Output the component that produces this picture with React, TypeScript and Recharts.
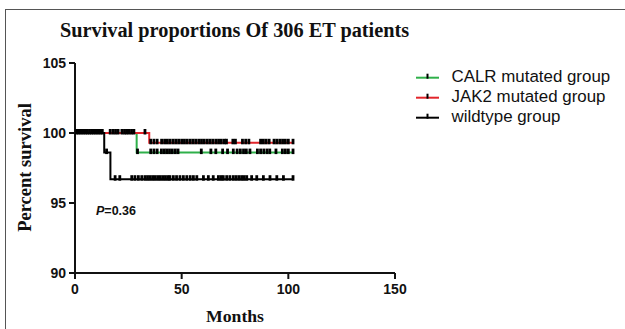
import { LineChart, Line, XAxis, YAxis } from "recharts";

// Kaplan-Meier steps: [month, percent survival]
const calrSteps: [number, number][] = [[0, 100], [28.9, 98.6]];
const jak2Steps: [number, number][] = [[0, 100], [34.8, 99.3]];
const wildSteps: [number, number][] = [[0, 100], [13.7, 98.6], [16.6, 96.7]];

// censored observations (months)
const calrCensored = [
  29.3, 35.5, 37, 38.5, 40.5, 41.8, 43, 44.3, 45.6, 47, 48.3, 59.2, 63.7, 66, 69.2, 71.5,
  74.2, 76, 77.5, 79, 80.3, 82, 85.5, 87, 88.5, 90, 91.3, 94.2, 97.2, 98.6, 100, 102.2,
];
const jak2Censored = [
  16.5, 17.8, 19, 20.2, 22, 23.2, 24.2, 25.3, 26.5, 27.6, 32.8,
  35.5, 37, 38.5, 40.6, 42, 43.3, 44.6, 46, 47.3, 48.6, 50, 51.3, 52.6, 54, 55.3, 56.6, 58,
  59.3, 60.6, 62, 63.3, 64.6, 66, 67.3, 68.6, 70, 71, 74, 75.2, 78.5, 80, 81.5, 87, 88.3,
  89.6, 91, 93.3, 94.6, 96, 97.3, 98.6, 100, 102.2,
];
const wildCensored = [
  0.8, 1.8, 2.8, 3.8, 4.8, 5.8, 6.8, 7.8, 8.8, 9.8, 10.8, 11.8, 12.8, 14.8,
  18.8, 21, 26.6, 28.1, 29.7, 31.3, 32.8, 34, 35.2, 36.4, 37.6, 38.8, 40, 41.2, 42.4, 43.6,
  44.5, 46.1, 47.6, 49.2, 50.8, 52.4, 54, 55.5, 57.1, 60.2, 62.5, 64.8, 67.2, 68.4, 69.5,
  71.1, 72.6, 74.2, 75.5, 76.8, 78.1, 79.3, 80.5, 82.8, 85.2, 88.3, 91.4, 94.6, 97.7, 102.2,
];

const xTicks = [0, 50, 100, 150];
const yTicks = [90, 95, 100, 105];

const groups = [
  { name: "CALR mutated group", color: "#2fb04a" },
  { name: "JAK2 mutated group", color: "#e2252b" },
  { name: "wildtype group", color: "#000000" },
];

function buildCurve(steps: [number, number][], censored: number[]) {
  const times = Array.from(new Set([...steps.map((s) => s[0]), ...censored])).sort((a, b) => a - b);
  return times.map((t) => {
    let s = steps[0][1];
    for (const st of steps) if (st[0] <= t) s = st[1];
    return { t, s, c: censored.includes(t) };
  });
}

const calrData = buildCurve(calrSteps, calrCensored);
const jak2Data = buildCurve(jak2Steps, jak2Censored);
const wildData = buildCurve(wildSteps, wildCensored);

const CensorTick = (props: any) => {
  const { cx, cy, payload, index } = props;
  if (!payload || !payload.c) return <g key={index} />;
  return <rect key={index} x={cx - 1.4} y={cy - 4} width={2.8} height={5.5} fill="#000" />;
};

const serif = "'Liberation Serif', 'Times New Roman', serif";
const sans = "'Liberation Sans', Arial, sans-serif";

export default function App() {
  return (
    <div style={{ position: "absolute", left: 0, top: 0, width: 625, height: 329, background: "#fff", overflow: "hidden" }}>
      <div
        style={{
          position: "absolute",
          left: 5,
          top: 9,
          width: 640,
          height: 340,
          borderTop: "1.5px solid #555",
          borderLeft: "1.5px solid #555",
        }}
      />
      <div style={{ position: "absolute", left: 0, top: 0 }}>
        <LineChart width={625} height={329} margin={{ top: 63, right: 230, bottom: 0, left: 0 }}>
          <XAxis
            type="number"
            dataKey="t"
            domain={[0, 150]}
            ticks={xTicks}
            height={56}
            stroke="#111"
            strokeWidth={2}
            tickSize={6}
            tickMargin={5}
            tick={{ fill: "#111", fontSize: 14, fontWeight: "bold", fontFamily: sans }}
            allowDuplicatedCategory={false}
          />
          <YAxis
            type="number"
            dataKey="s"
            domain={[90, 105]}
            ticks={yTicks}
            width={75}
            stroke="#111"
            strokeWidth={2}
            tickSize={6}
            tickMargin={3}
            tick={{ fill: "#111", fontSize: 14, fontWeight: "bold", fontFamily: sans }}
          />
          <Line data={calrData} dataKey="s" type="stepAfter" stroke={groups[0].color} strokeWidth={2} dot={CensorTick} activeDot={false} isAnimationActive={false} />
          <Line data={jak2Data} dataKey="s" type="stepAfter" stroke={groups[1].color} strokeWidth={2} dot={CensorTick} activeDot={false} isAnimationActive={false} />
          <Line data={wildData} dataKey="s" type="stepAfter" stroke={groups[2].color} strokeWidth={2} dot={CensorTick} activeDot={false} isAnimationActive={false} />
        </LineChart>
      </div>
      <svg width={625} height={329} style={{ position: "absolute", left: 0, top: 0, pointerEvents: "none" }}>
        <text x={60} y={37} fontFamily={serif} fontWeight="bold" fontSize={20.3} fill="#111">
          Survival proportions Of 306 ET patients
        </text>
        <text
          x={0}
          y={0}
          transform="translate(31,167.5) rotate(-90)"
          textAnchor="middle"
          fontFamily={serif}
          fontWeight="bold"
          fontSize={18.5}
          fill="#111"
        >
          Percent survival
        </text>
        <text x={235} y={321.5} textAnchor="middle" fontFamily={serif} fontWeight="bold" fontSize={17.7} fill="#111">
          Months
        </text>
        <text x={96} y={215} fontFamily={sans} fontWeight="bold" fontSize={12.5} fill="#111">
          <tspan fontStyle="italic">P</tspan>=0.36
        </text>
        {groups.map((g, i) => {
          const y = 77.7 + i * 20;
          return (
            <g key={g.name}>
              <line x1={416} x2={439} y1={y} y2={y} stroke={g.color} strokeWidth={2} />
              <line x1={427.5} x2={427.5} y1={y - 4} y2={y + 1} stroke="#000" strokeWidth={2} />
              <text x={451.5} y={y + 4.2} fontFamily={sans} fontSize={16.9} fill="#111">
                {g.name}
              </text>
            </g>
          );
        })}
      </svg>
    </div>
  );
}
